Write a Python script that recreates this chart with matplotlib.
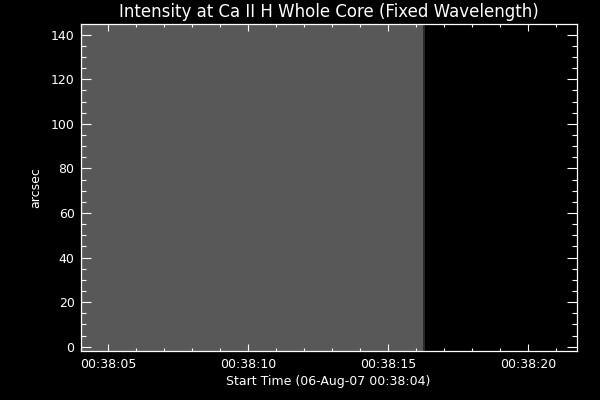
import matplotlib
matplotlib.use("Agg")
import matplotlib.pyplot as plt
import numpy as np
from matplotlib.ticker import FixedLocator, MultipleLocator

# Data (seconds after start time 00:38:04)
time_edges = [0.0, 12.23, 12.31]
intensity = [0.345, 0.17]
y_edges = [-2.06, 144.8]
x_ticks = [1, 6, 11, 16]
x_tick_labels = ["00:38:05", "00:38:10", "00:38:15", "00:38:20"]
y_ticks = [0, 20, 40, 60, 80, 100, 120, 140]

title = "Intensity at Ca II H Whole Core (Fixed Wavelength)"
xlabel = "Start Time (06-Aug-07 00:38:04)"
ylabel = "arcsec"

fig = plt.figure(figsize=(6, 4), dpi=100, facecolor="black")
ax = fig.add_axes([80.5/600, 1-351.3/400, (576.7-80.5)/600, (351.3-24)/400])
ax.set_facecolor("black")

C = np.array([intensity])
ax.pcolormesh(time_edges, y_edges, C, cmap="gray", vmin=0, vmax=1, shading="flat")

ax.set_xlim(0, 17.73)
ax.set_ylim(y_edges[0], y_edges[1])

ax.xaxis.set_major_locator(FixedLocator(x_ticks))
ax.set_xticklabels(x_tick_labels)
ax.xaxis.set_minor_locator(MultipleLocator(1))
ax.yaxis.set_major_locator(FixedLocator(y_ticks))
ax.yaxis.set_minor_locator(MultipleLocator(5))

for s in ax.spines.values():
    s.set_color("white")
    s.set_linewidth(0.9)

ax.tick_params(axis="x", which="major", direction="in", length=5, width=0.8,
               colors="white", top=True, bottom=True, pad=5, labelsize=9)
ax.tick_params(axis="x", which="minor", direction="in", length=2.5, width=0.8,
               colors="white", top=True, bottom=True)
ax.tick_params(axis="y", which="major", direction="in", length=7.2, width=0.8,
               colors="white", left=True, right=True, pad=4.3, labelsize=9)
ax.tick_params(axis="y", which="minor", direction="in", length=3.6, width=0.8,
               colors="white", left=True, right=True)

fig.text(328.6/600, 1-12/400, title, color="white", fontsize=12,
         ha="center", va="center")
ax.set_xlabel(xlabel, color="white", fontsize=9)
ax.xaxis.set_label_coords(0.5, -0.091)
ax.xaxis.label.set_va("center")
ax.set_ylabel(ylabel, color="white", fontsize=9)
ax.yaxis.set_label_coords(-0.091, 0.5)
ax.yaxis.label.set_va("center")

fig.savefig("out.png", dpi=100, facecolor="black")
